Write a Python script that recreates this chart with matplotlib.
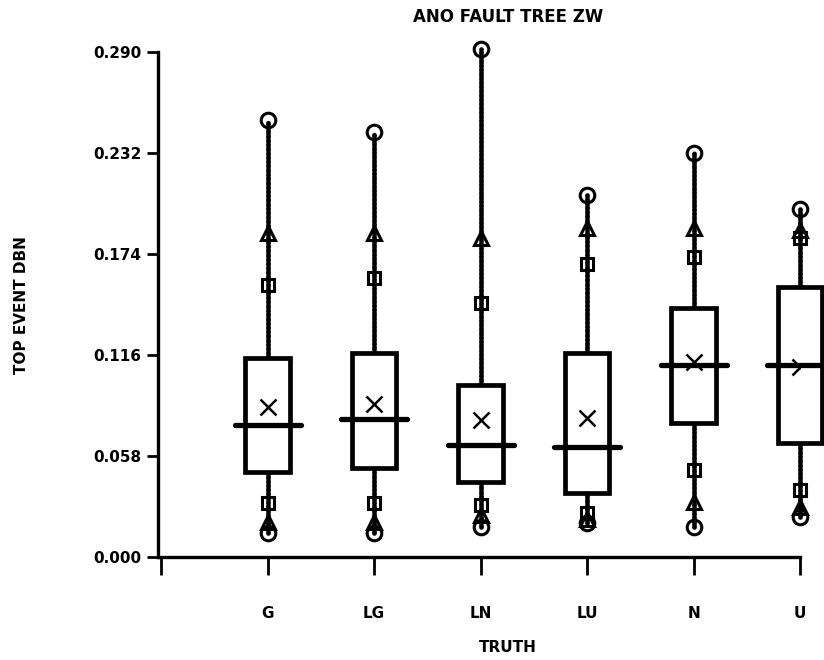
import numpy as np
import matplotlib.pyplot as plt

# values (top circle, triangle, square, box top, mean, median, box bottom, square, triangle, circle)
groups = ['G', 'LG', 'LN', 'LU', 'N', 'U']
p_max = [0.251, 0.244, 0.292, 0.208, 0.232, 0.200]
p_hi2 = [0.186, 0.186, 0.183, 0.189, 0.189, 0.188]
p_hi1 = [0.156, 0.160, 0.146, 0.168, 0.172, 0.183]
q3 = [0.114, 0.117, 0.0987, 0.117, 0.143, 0.155]
means = [0.086, 0.088, 0.0786, 0.080, 0.112, 0.109]
medians = [0.0758, 0.079, 0.0643, 0.063, 0.110, 0.110]
q1 = [0.0488, 0.051, 0.043, 0.037, 0.077, 0.0654]
p_lo1 = [0.031, 0.031, 0.030, 0.025, 0.050, 0.0385]
p_lo2 = [0.020, 0.020, 0.024, 0.022, 0.0316, 0.0287]
p_min = [0.0138, 0.0138, 0.0172, 0.0195, 0.0172, 0.023]
yticks = [0.000, 0.058, 0.116, 0.174, 0.232, 0.290]

fig = plt.figure(figsize=[8.24, 6.6], dpi=100)
ax = fig.add_axes([158/824, 103/660, 642/824, 505/660])

x = np.arange(1, len(groups) + 1)
# chain-of-beads whiskers
dots = dict(color='black', linewidth=3.4, linestyle=(0, (0.35, 0.55)),
            dash_capstyle='round', zorder=1, clip_on=False)
for i in range(len(groups)):
    ax.plot([x[i], x[i]], [q3[i], p_max[i]], **dots)
    ax.plot([x[i], x[i]], [p_min[i], q1[i]], **dots)

ax.bar(x, np.array(q3) - np.array(q1), bottom=q1, width=0.42, color='white',
       edgecolor='black', linewidth=3.4, zorder=2, clip_on=False)
ax.hlines(medians, x - 0.31, x + 0.31, color='black', linewidth=3.8, zorder=3,
          capstyle='round', clip_on=False)

mk = dict(linestyle='None', markerfacecolor='none', markeredgecolor='black',
          markeredgewidth=2.2, zorder=4, clip_on=False)
ax.plot(x, p_max, marker='o', markersize=10.5, **mk)
ax.plot(x, p_min, marker='o', markersize=10.5, **mk)
ax.plot(x, p_hi2, marker='^', markersize=10, **mk)
ax.plot(x, p_lo2, marker='^', markersize=10, **mk)
ax.plot(x, p_hi1, marker='s', markersize=9, **mk)
ax.plot(x, p_lo1, marker='s', markersize=9, **mk)
ax.plot(x, means, marker='x', markersize=11, markeredgecolor='black',
        markeredgewidth=1.8, linestyle='None', zorder=4)

ax.set_xlim(-0.03, 6)
ax.set_ylim(0, 0.290)
ax.spines['top'].set_visible(False)
ax.spines['right'].set_visible(False)
ax.spines['left'].set_linewidth(2.4)
ax.spines['bottom'].set_linewidth(2.4)

ax.set_yticks(yticks)
ax.set_yticklabels(['%.3f' % t for t in yticks], fontsize=11, fontweight='heavy')
ax.tick_params(axis='y', direction='out', length=8, width=2, pad=4)

ax.set_xticks(np.arange(0, 7))
ax.set_xticklabels([''] + groups, fontsize=11, fontweight='heavy')
ax.tick_params(axis='x', direction='out', length=13, width=2, pad=22)

fig.text(508/824, 1 - 17/660, 'ANO FAULT TREE ZW', ha='center', va='center',
         fontsize=12, fontweight='heavy')
fig.text(508/824, 1 - 647/660, 'TRUTH', ha='center', va='center',
         fontsize=11, fontweight='heavy')
fig.text(22/824, 1 - 305/660, 'TOP EVENT DBN', ha='center', va='center',
         rotation=90, fontsize=11, fontweight='heavy')

plt.savefig('out.png', dpi=100)
